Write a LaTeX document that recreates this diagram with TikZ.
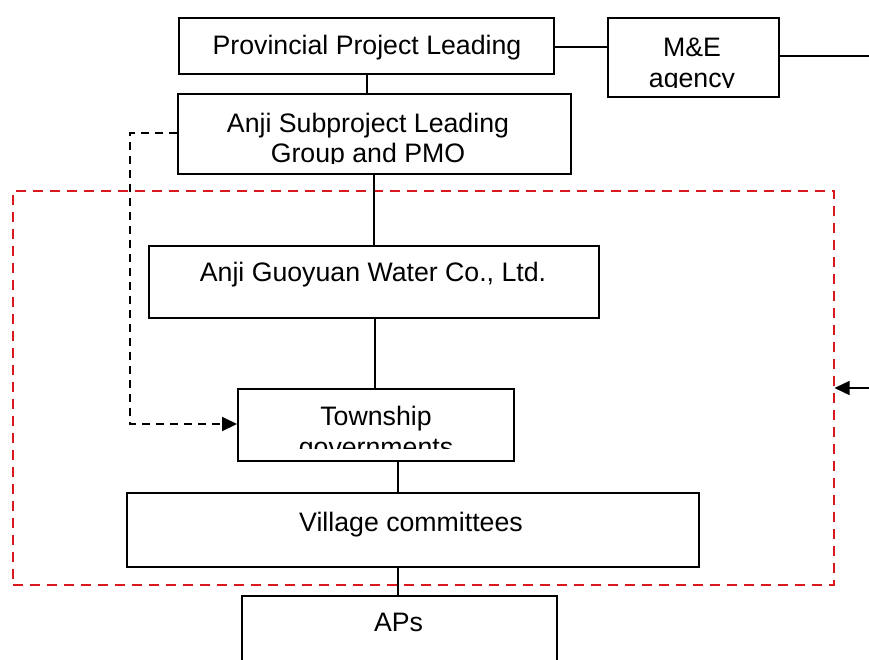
\documentclass[tikz,border=0pt]{standalone}
\usepackage{fontspec}
\setmainfont{Liberation Sans}
\usetikzlibrary{arrows.meta}
\definecolor{dred}{RGB}{218,24,32}
\begin{document}
\begin{tikzpicture}[x=1pt,y=-1pt,
  box/.style={draw,line width=1.5pt,anchor=north west,inner sep=0pt},
  lbl/.style={font=\fontsize{26.7}{31}\selectfont,inner sep=0pt,anchor=base},
  conn/.style={line width=1.5pt},
  dconn/.style={line width=2pt,dash pattern=on 8pt off 6pt},
  redbox/.style={draw=dred,line width=1.5pt,dash pattern=on 10pt off 7pt},
  tip/.style={-{Triangle[length=15pt,width=14pt]}}
]
\useasboundingbox (0,0) rectangle (869,659);
% boxes
\node[box,minimum width=375pt,minimum height=56pt] (prov) at (178,17) {};
\node[box,minimum width=171pt,minimum height=79pt] (me) at (607,17) {};
\node[box,minimum width=393pt,minimum height=80pt] (anji) at (177,93) {};
\node[box,minimum width=450pt,minimum height=72pt] (guo) at (148,245) {};
\node[box,minimum width=276pt,minimum height=72pt] (town) at (237,388) {};
\node[box,minimum width=572pt,minimum height=74pt] (vil) at (126,492) {};
\node[box,minimum width=315pt,minimum height=80pt] (aps) at (241,595) {};
% red dashed boundary
\node[redbox,anchor=north west,minimum width=821pt,minimum height=394pt,inner sep=0pt] (area) at (12,190) {};
% texts
\node[lbl] (tprov) at (367,54) {Provincial Project Leading};
\begin{scope}
  \clip (610,20) rectangle (775,87);
  \node[lbl] (tme1) at (692,56) {M\&E};
  \node[lbl] (tme2) at (692,87) {agency};
\end{scope}
\begin{scope}
  \clip (180,96) rectangle (567,163);
  \node[lbl] (tanji1) at (368,132) {Anji Subproject Leading};
  \node[lbl] (tanji2) at (368,162) {Group and PMO};
\end{scope}
\node[lbl] (tguo) at (373,281) {Anji Guoyuan Water Co., Ltd.};
\begin{scope}
  \clip (240,391) rectangle (510,448);
  \node[lbl] (ttown1) at (376,425) {Township};
  \node[lbl] (ttown2) at (376,456) {governments};
\end{scope}
\node[lbl] (tvil) at (411,531) {Village committees};
\node[lbl] (taps) at (398.5,631) {APs};
% connectors
\coordinate (meR) at (869,56);
\coordinate (arrR) at (869,388);
\draw[conn] (prov.east |- 0,47) -- (me.west |- 0,47);
\draw[conn] (me.east |- meR) -- (meR);
\draw[conn] (prov.south -| 367,0) -- (anji.north -| 367,0);
\draw[conn] (anji.south -| 374,0) -- (guo.north -| 374,0);
\draw[conn] (guo.south -| 375,0) -- (town.north -| 375,0);
\draw[conn] (town.south -| 398,0) -- (vil.north -| 398,0);
\draw[conn] (vil.south -| 398,0) -- (aps.north -| 398,0);
\draw[dconn,tip] (anji.west |- 0,133) -- (130,133) -- (130,424) -- (town.west |- 0,424);
\draw[conn,tip] (arrR) -- (area.east |- arrR);
\end{tikzpicture}
\end{document}
